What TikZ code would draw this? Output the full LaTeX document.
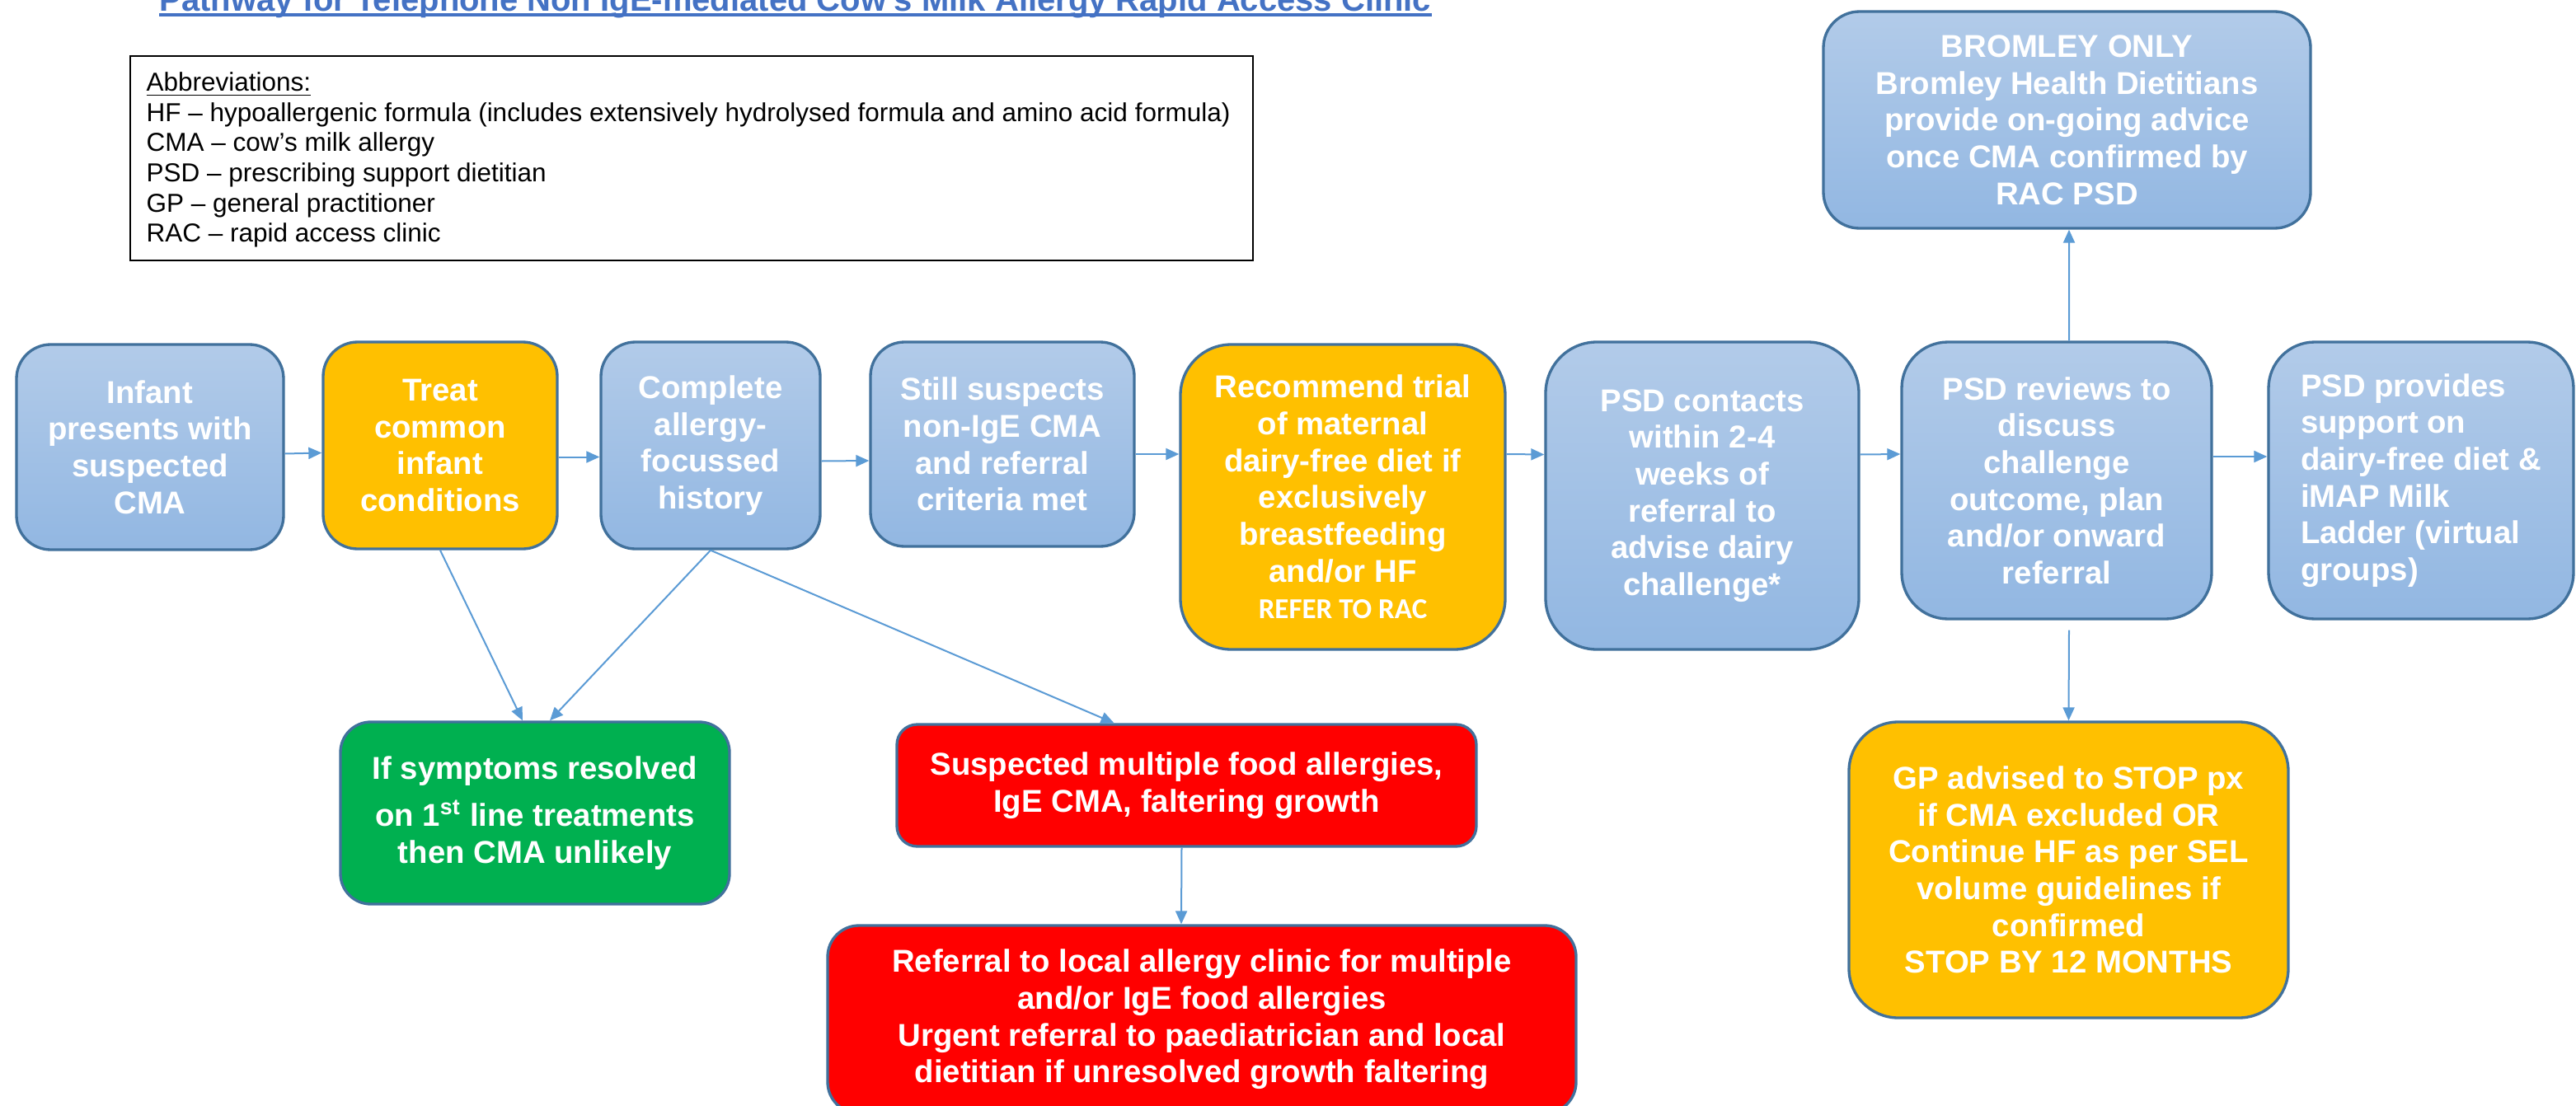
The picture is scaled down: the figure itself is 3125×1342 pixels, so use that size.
\documentclass[tikz,border=0pt]{standalone}
\usepackage{fontspec}
\setmainfont{Liberation Sans}
\newfontfamily\calibfont{Carlito}
\usetikzlibrary{arrows.meta,calc}
\definecolor{bluetop}{RGB}{178,203,233}
\definecolor{bluebot}{RGB}{146,183,226}
\definecolor{bord}{RGB}{65,113,156}
\definecolor{amber}{RGB}{255,192,0}
\definecolor{okgreen}{RGB}{0,176,80}
\definecolor{alarm}{RGB}{255,0,0}
\definecolor{arr}{RGB}{91,155,213}
\definecolor{titleblue}{RGB}{68,114,196}

\newcommand{\flowbox}[7]{%
 \pgfmathsetmacro\fbW{(#4-#2)*0.3}%
 \pgfmathsetmacro\fbH{(#5-#3)*0.3}%
 \pgfmathsetmacro\fbR{0.1667*min(#4-#2,#5-#3)*0.3}%
 \pgfmathsetmacro\fbX{(#2+#4)/2}%
 \pgfmathsetmacro\fbY{(#3+#5)/2}%
 \node[#6, minimum width=\fbW pt, minimum height=\fbH pt, rounded corners=\fbR pt] (#1) at (\fbX,\fbY) {#7};}

\tikzset{
 pbox/.style={draw=bord, line width=1pt, text=white, font=\bfseries\fontsize{11.5pt}{13.4pt}\selectfont, align=center, inner sep=2pt},
 bluebox/.style={pbox, top color=bluetop, bottom color=bluebot},
 amberbox/.style={pbox, fill=amber},
 greenbox/.style={pbox, fill=okgreen},
 redbox/.style={pbox, fill=alarm},
 link/.style={draw=arr, line width=0.6pt, -{Triangle[length=4.8pt,width=4.2pt]}},
}

\begin{document}
\begin{tikzpicture}[x=0.3pt,y=-0.3pt]
\useasboundingbox (0,0) rectangle (3125,1342);
\fill[white] (0,0) rectangle (3125,1342);
\clip (0,0) rectangle (3125,1342);

% title
\node[anchor=base west, inner sep=0, text=titleblue, font=\bfseries\fontsize{12pt}{14pt}\selectfont] (title) at (193,13) {Pathway for Telephone Non IgE-mediated Cow’s Milk Allergy Rapid Access Clinic};
\draw[titleblue, line width=1.3pt] ($(title.base west)+(0,5)$) -- ($(title.base east)+(0,5)$);

% abbreviations
\node[draw=black, line width=0.6pt, anchor=north west, minimum width=408.6pt, minimum height=74.4pt, inner sep=0] (abbr) at (157,67) {};
\node[anchor=north west, inner sep=0, align=left, font=\fontsize{9.45pt}{11pt}\selectfont] (abbrtext) at (177,87) {\underline{Abbreviations:}\\
HF – hypoallergenic formula (includes extensively hydrolysed formula and amino acid formula)\\
CMA – cow’s milk allergy\\
PSD – prescribing support dietitian\\
GP – general practitioner\\
RAC – rapid access clinic};

% boxes
\flowbox{n1}{20}{418}{344}{667}{bluebox}{Infant\\ presents with\\ suspected\\ CMA}
\flowbox{n2}{392}{415}{676}{666}{amberbox}{Treat\\ common\\ infant\\ conditions}
\flowbox{n3}{729}{415}{995}{666}{bluebox}{Complete\\ allergy-\\ focussed\\ history}
\flowbox{n4}{1056}{415}{1376}{663}{bluebox}{Still suspects\\ non-IgE CMA\\ and referral\\ criteria met}
\flowbox{n5}{1432}{418}{1826}{788}{amberbox}{Recommend trial\\ of maternal\\ dairy-free diet if\\ exclusively\\ breastfeeding\\ and/or HF\\ {\calibfont\fontsize{10.5pt}{13.4pt}\selectfont REFER TO RAC}}
\flowbox{n6}{1875}{415}{2255}{788}{bluebox}{PSD contacts\\ within 2-4\\ weeks of\\ referral to\\ advise dairy\\ challenge*}
\flowbox{n7}{2307}{415}{2683}{751}{bluebox}{PSD reviews to\\ discuss\\ challenge\\ outcome, plan\\ and/or onward\\ referral}
\flowbox{n8}{2752}{415}{3122}{751}{bluebox,align=left}{PSD provides\\ support on\\ dairy-free diet \&\\ iMAP Milk\\ Ladder (virtual\\ groups)}
\flowbox{brom}{2212}{14}{2803}{277}{bluebox}{BROMLEY ONLY\\ Bromley Health Dietitians\\ provide on-going advice\\ once CMA confirmed by\\ RAC PSD}
\flowbox{green}{413}{876}{885}{1097}{greenbox}{If symptoms resolved\\[3.9pt] on 1\textsuperscript{st} line treatments\\ then CMA unlikely}
\flowbox{red1}{1088}{879}{1791}{1027}{redbox}{Suspected multiple food allergies,\\ IgE CMA, faltering growth}
\flowbox{red2}{1004}{1123}{1912}{1351}{redbox}{Referral to local allergy clinic for multiple\\ and/or IgE food allergies\\ Urgent referral to paediatrician and local\\ dietitian if unresolved growth faltering}
\flowbox{gp}{2243}{876}{2776}{1235}{amberbox}{GP advised to STOP px\\ if CMA excluded OR\\ Continue HF as per SEL\\ volume guidelines if\\ confirmed\\ STOP BY 12 MONTHS}

% connectors
\draw[link] ($(n1.east)+(0,8)$) -- ($(n2.west)+(0,9)$);
\draw[link] ($(n2.east)+(0,14)$) -- ($(n3.west)+(0,14)$);
\draw[link] ($(n3.east)+(0,19)$) -- ($(n4.west)+(0,20)$);
\draw[link] ($(n4.east)+(0,12)$) -- ($(n5.west)+(0,-52)$);
\draw[link] ($(n5.east)+(0,-52)$) -- ($(n6.west)+(0,-50)$);
\draw[link] ($(n6.east)+(0,-50)$) -- ($(n7.west)+(0,-32)$);
\draw[link] ($(n7.east)+(0,-29)$) -- ($(n8.west)+(0,-29)$);
\draw[link] ($(n7.north)+(15,0)$) -- ($(brom.south)+(2.5,0)$);
\draw[link] ($(n7.south)+(15,12)$) -- (gp.north);
\draw[link] (n2.south) -- ($(green.north)+(-15,0)$);
\draw[link] (n3.south) -- ($(green.north)+(18,0)$);
\draw[link] (n3.south) -- ($(red1.north)+(-88,0)$);
\draw[link] ($(red1.south)+(-6,0)$) -- ($(red2.north)+(-25,0)$);
\end{tikzpicture}
\end{document}
